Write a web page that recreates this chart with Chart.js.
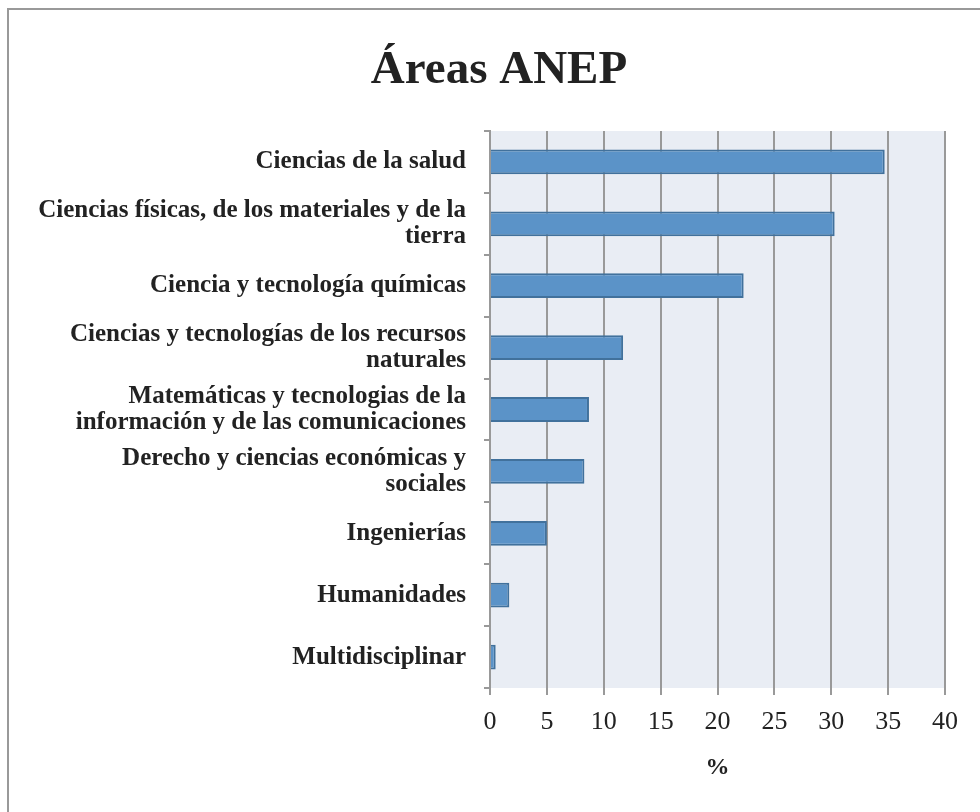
<!DOCTYPE html>
<html>
<head>
<meta charset="utf-8">
<script src="https://cdn.jsdelivr.net/npm/chart.js@4"></script>
<style>
  html, body { margin: 0; padding: 0; background: #fff; overflow: hidden; }
  #frame { position: absolute; left: 7px; top: 8px; width: 1100px; height: 1000px; border: 2px solid #999; }
  #wrap { position: absolute; left: 0; top: 0; width: 980px; height: 812px; }
</style>
</head>
<body>
<div id="frame"></div>
<div id="wrap"><canvas id="chart"></canvas></div>
<script>
const chartTitle = 'Áreas ANEP';
const axisTitle = '%';
const categories = [
  'Ciencias de la salud',
  ['Ciencias físicas, de los materiales y de la', 'tierra'],
  'Ciencia y tecnología químicas',
  ['Ciencias y tecnologías de los recursos', 'naturales'],
  ['Matemáticas y tecnologias de la', 'información y de las comunicaciones'],
  ['Derecho y ciencias económicas y', 'sociales'],
  'Ingenierías',
  'Humanidades',
  'Multidisciplinar'
];
const percentages = [34.7, 30.3, 22.3, 11.7, 8.7, 8.3, 5.0, 1.7, 0.5];
const xMin = 0;
const xMax = 40;
const xStep = 5;

const serif = '"Liberation Serif", "Times New Roman", serif';

// light plot background like the office chart
const plotBg = {
  id: 'plotBg',
  beforeDraw(chart) {
    const a = chart.chartArea;
    const ctx = chart.ctx;
    ctx.save();
    ctx.fillStyle = '#e9edf4';
    ctx.fillRect(a.left, a.top, a.right - a.left, a.bottom - a.top);
    ctx.restore();
  }
};

// title sits a bit right of the canvas centre, so draw it by hand
const bigTitle = {
  id: 'bigTitle',
  afterDraw(chart) {
    const ctx = chart.ctx;
    ctx.save();
    ctx.font = 'bold 47px ' + serif;
    ctx.fillStyle = '#222';
    ctx.textAlign = 'center';
    ctx.textBaseline = 'alphabetic';
    ctx.fillText(chartTitle, 499, 83);
    ctx.restore();
  }
};

new Chart(document.getElementById('chart'), {
  type: 'bar',
  data: {
    labels: categories,
    datasets: [{
      data: percentages,
      backgroundColor: '#5b93c8',
      borderColor: '#41719c',
      borderWidth: 2,
      barPercentage: 0.4,
      categoryPercentage: 1
    }]
  },
  plugins: [plotBg, bigTitle],
  options: {
    indexAxis: 'y',
    responsive: true,
    maintainAspectRatio: false,
    animation: false,
    layout: { padding: { left: 10, right: 35, top: 131, bottom: 0 } },
    plugins: {
      legend: { display: false },
      tooltip: { enabled: false },
      title: { display: false }
    },
    scales: {
      x: {
        min: xMin,
        max: xMax,
        ticks: {
          stepSize: xStep,
          color: '#222',
          padding: 12,
          font: { family: serif, size: 26 }
        },
        grid: { color: '#999', lineWidth: 2, tickLength: 7 },
        border: { display: false },
        title: {
          display: true,
          text: axisTitle,
          color: '#222',
          font: { family: serif, size: 24, weight: 'bold', lineHeight: 1.2 },
          padding: { top: 0, bottom: 30 }
        },
        afterFit(scale) { scale.height = 124; }
      },
      y: {
        ticks: {
          color: '#222',
          padding: 18,
          font: { family: serif, size: 25, weight: 'bold', lineHeight: 1.05 }
        },
        grid: { drawOnChartArea: false, color: '#999', lineWidth: 2, tickLength: 6 },
        border: { color: '#999', width: 2 },
        afterFit(scale) { scale.width = 480; }
      }
    }
  }
});
</script>
</body>
</html>
